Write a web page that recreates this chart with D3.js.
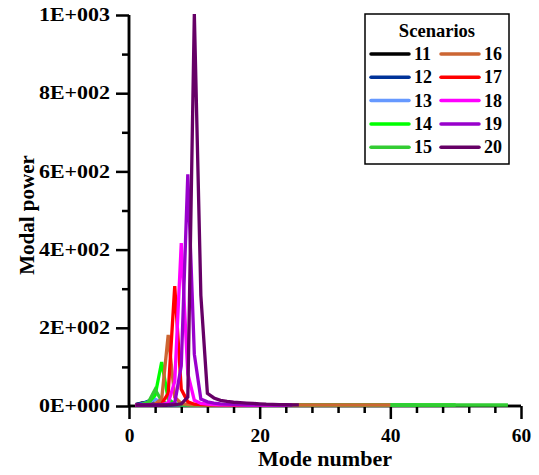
<!DOCTYPE html>
<html>
<head>
<meta charset="utf-8">
<script src="https://cdn.jsdelivr.net/npm/d3@7"></script>
<style>
  html, body { margin: 0; padding: 0; background: #fff; }
</style>
</head>
<body>
<svg id="chart" width="539" height="475"></svg>
<script>
// Modal power per mode number, one array per scenario (index 0 = mode 1)
const scenarioNames = ["11", "12", "13", "14", "15", "16", "17", "18", "19", "20"];
const scenarioColors = ["#000000", "#003399", "#6699ff", "#00ff00", "#33cc33",
                        "#cc6633", "#ff0000", "#ff00ff", "#9900cc", "#660066"];

const s11 = [1, 5, 3, 1, 0.5, 0.3, 0.2, 0.1, 0, 0, 0, 0, 0, 0, 0, 0, 0, 0, 0, 0,
             0, 0, 0, 0, 0, 0, 0, 0, 0, 0];
const s12 = [1, 4, 10, 4, 1, 0.5, 0.3, 0.2, 0.1, 0, 0, 0, 0, 0, 0, 0, 0, 0, 0, 0,
             0, 0, 0, 0, 0, 0, 0, 0, 0, 0, 0, 0, 0, 0];
const s13 = [0.5, 2, 8, 15, 5, 1, 0.5, 0.3, 0.2, 0.1, 0, 0, 0, 0, 0, 0, 0, 0, 0, 0,
             0, 0, 0, 0, 0, 0, 0, 0, 0, 0, 0, 0, 0, 0, 0, 0, 0, 0, 0, 0,
             0, 0, 0, 0];
const s14 = [0.2, 1, 6, 25, 110, 15, 3, 1, 0.5, 0.3, 0.2, 0.1, 0, 0, 0, 0, 0, 0, 0, 0,
             0, 0, 0, 0, 0, 0, 0, 0, 0, 0, 0, 0, 0, 0, 0, 0, 0, 0, 0, 0,
             0, 0, 0, 0, 0, 0, 0, 0, 0, 0];
const s15 = [0.2, 1, 8, 40, 10, 2, 1, 0.5, 0.3, 0.2, 0.1, 0.1, 0, 0, 0, 0, 0, 0, 0, 0,
             0, 0, 0, 0, 0, 0, 0, 0, 0, 0, 0, 0, 0, 0, 0, 0, 0, 0, 0, 0,
             0, 0, 0, 0, 0, 0, 0, 0, 0, 0, 0, 0, 0, 0, 0, 0, 0, 0];
const s16 = [0, 0.5, 1, 3, 15, 179, 20, 4, 1, 0.5, 0.3, 0.2, 0.1, 0, 0, 0, 0, 0, 0, 0,
             0, 0, 0, 0, 0, 0, 0, 0, 0, 0, 0, 0, 0, 0, 0, 0, 0, 0, 0, 0];
const s17 = [0, 0, 0.5, 1, 3, 30, 304, 40, 8, 2, 1, 0.5, 0.3, 0.2, 0.1, 0, 0, 0, 0, 0,
             0, 0, 0, 0];
const s18 = [0, 0, 0, 0.5, 1, 5, 60, 414, 80, 12, 4, 2, 1, 0.5, 0.3, 0.2, 0.1, 0, 0, 0,
             0, 0, 0, 0];
const s19 = [0, 0, 0, 0, 0.5, 1, 5, 100, 590, 130, 15, 8, 5, 3, 2, 1.5, 1, 0.5, 0.3, 0.2,
             0.1, 0, 0, 0, 0];
const s20 = [0, 0, 0, 0, 0, 0.5, 1, 3, 20, 1000, 280, 30, 18, 12, 9, 7, 6, 5, 4, 3,
             2, 1.5, 1, 1, 0.5, 0.5];
const seriesValues = [s11, s12, s13, s14, s15, s16, s17, s18, s19, s20];

const xMajorTicks = [0, 20, 40, 60];
const xMinorTicks = [4, 8, 12, 16, 24, 28, 32, 36, 44, 48, 52, 56];
const yMajorTicks = [0, 200, 400, 600, 800, 1000];
const yMinorTicks = [100, 300, 500, 700, 900];
const yTickLabels = ["0E+000", "2E+002", "4E+002", "6E+002", "8E+002", "1E+003"];

const FONT = "'Liberation Serif'";
const svg = d3.select("#chart");
const plotLeft = 129, plotRight = 521, plotTop = 15, plotBottom = 406;

const x = d3.scaleLinear().domain([0, 60]).range([plotLeft, plotRight]);
const y = d3.scaleLinear().domain([0, 1000]).range([plotBottom, plotTop]);

function styleText(sel, size) {
  sel.style("font-family", FONT).style("font-weight", "bold")
     .style("font-size", size + "px").attr("fill", "#000");
}
// widen serif glyphs slightly
function stretch(sel, k) {
  sel.each(function () {
    const w = this.getComputedTextLength();
    d3.select(this).attr("textLength", w * k).attr("lengthAdjust", "spacingAndGlyphs");
  });
}

// axes
const xAxis = svg.append("g").attr("transform", `translate(0,${plotBottom})`)
  .call(d3.axisBottom(x).tickValues(xMajorTicks).tickSize(13).tickPadding(10).tickFormat(d3.format("d")));
const xMinor = svg.append("g").attr("transform", `translate(0,${plotBottom})`)
  .call(d3.axisBottom(x).tickValues(xMinorTicks).tickSize(7).tickFormat(""));
const yAxis = svg.append("g").attr("transform", `translate(${plotLeft},0)`)
  .call(d3.axisLeft(y).tickValues(yMajorTicks).tickSize(13).tickPadding(6)
        .tickFormat((d, i) => yTickLabels[i]));
const yMinor = svg.append("g").attr("transform", `translate(${plotLeft},0)`)
  .call(d3.axisLeft(y).tickValues(yMinorTicks).tickSize(7).tickFormat(""));

[xAxis, xMinor].forEach(g => g.select(".domain").attr("d", `M${plotLeft},0H${plotRight}`));
[yAxis, yMinor].forEach(g => g.select(".domain").attr("d", `M0,${plotBottom}V${plotTop}`));
[xAxis, xMinor, yAxis, yMinor].forEach(g => {
  g.select(".domain").attr("stroke", "#000").attr("stroke-width", 2.5);
  g.selectAll(".tick line").attr("stroke", "#000").attr("stroke-width", 2.5);
  styleText(g.selectAll("text"), 18);
});
stretch(xAxis.selectAll("text"), 1.08);
stretch(yAxis.selectAll("text"), 1.22);

// data lines, drawn over the axes
const line = d3.line().x((d, i) => x(i + 1)).y(d => y(d) - 1);
svg.append("g").selectAll("path")
  .data(seriesValues)
  .join("path")
  .attr("d", d => line(d))
  .attr("fill", "none")
  .attr("stroke", (d, i) => scenarioColors[i])
  .attr("stroke-width", 3.3)
  .attr("stroke-linejoin", "miter");

// axis titles
const xt = svg.append("text").attr("x", 325).attr("y", 466).attr("text-anchor", "middle")
  .text("Mode number");
styleText(xt, 21);
stretch(xt, 1.05);
const yt = svg.append("text").attr("transform", "translate(34,215) rotate(-90)").attr("text-anchor", "middle")
  .text("Modal power");
styleText(yt, 21);

// legend
const lg = svg.append("g");
lg.append("rect").attr("x", 365).attr("y", 14).attr("width", 144).attr("height", 150)
  .attr("fill", "#fff").attr("stroke", "#000").attr("stroke-width", 1.5);
const lt = lg.append("text").attr("x", 437).attr("y", 37).attr("text-anchor", "middle")
  .text("Scenarios");
styleText(lt, 18);
stretch(lt, 1.03);
const rows = lg.selectAll("g.item").data(scenarioNames).join("g").attr("class", "item")
  .attr("transform", (d, i) => {
    const col = Math.floor(i / 5), row = i % 5;
    return `translate(${371 + col * 70},${54 + row * 23.3})`;
  });
rows.append("line").attr("x1", 0).attr("x2", 38).attr("y1", 0).attr("y2", 0)
  .attr("stroke", (d, i) => scenarioColors[i]).attr("stroke-width", 3.5).attr("stroke-linecap", "round");
const rl = rows.append("text").attr("x", 43).attr("y", 6).text(d => d);
styleText(rl, 18);
</script>
</body>
</html>
